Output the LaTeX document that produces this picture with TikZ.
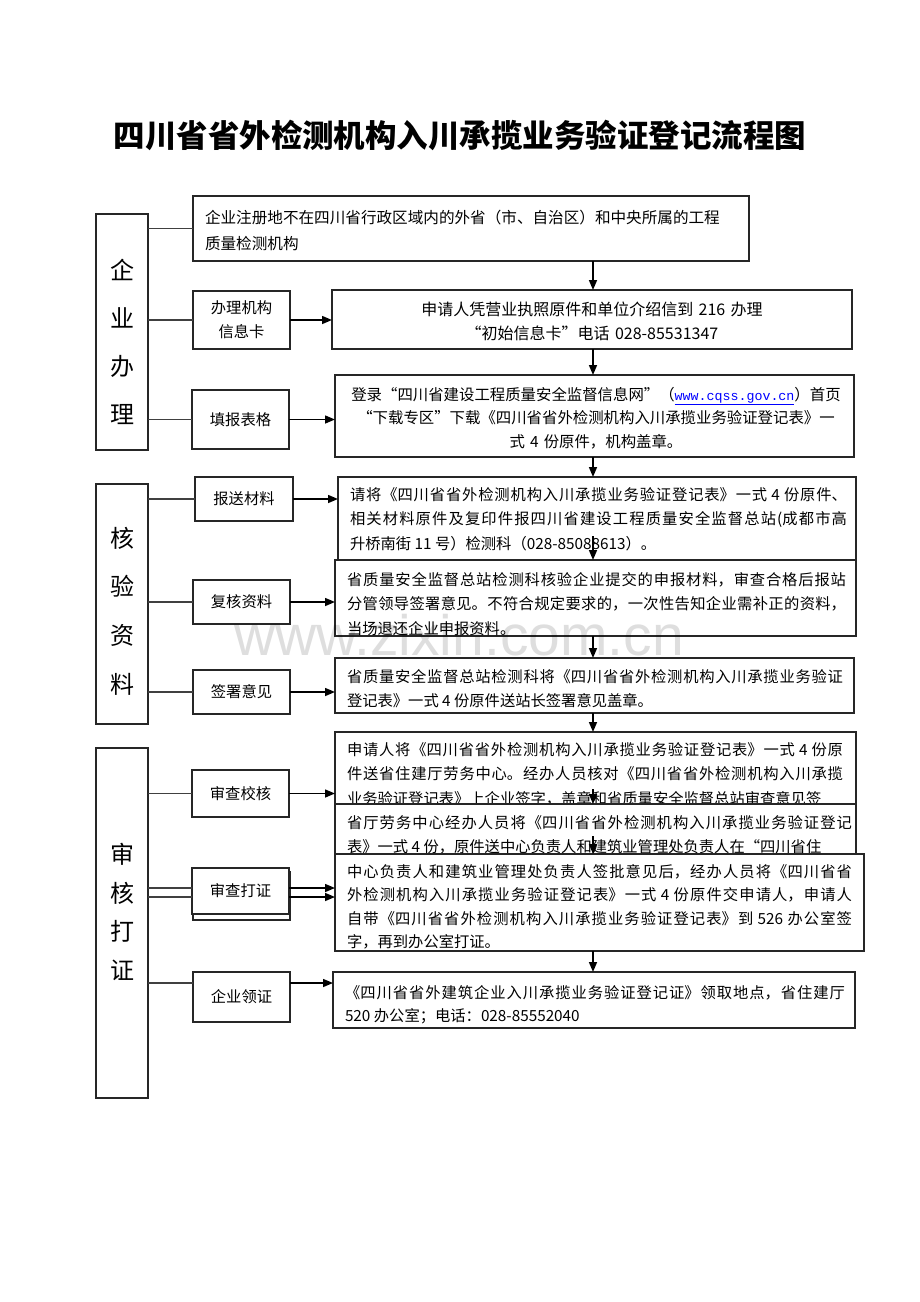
\documentclass[tikz,border=0pt]{standalone}
\usepackage{fontspec}
\setmainfont{Noto Sans CJK SC}
\newfontfamily\urlfont{Liberation Mono}
\newfontfamily\wmfont{Liberation Sans}
\usetikzlibrary{arrows.meta}
\XeTeXlinebreaklocale "zh"
\XeTeXlinebreakskip=0pt
\newcommand\drawbox[6][box]{\node[#1, minimum width={#4-#2}, minimum height={#5-#3}] (#6) at ({(#2+#4)/2},{(#3+#5)/2}) {};}
\newcommand\subbox[6]{\node[sub, minimum width={#4-#2}, minimum height={#5-#3}] (#1) at ({(#2+#4)/2},{(#3+#5)/2}) {#6};}
\newcommand\jfont[1]{\fontsize{15.3}{#1}\selectfont\XeTeXlinebreakskip=0pt plus 2pt minus 0.3pt\relax}
\tikzset{
  box/.style={draw=black!85, line width=1.2pt, fill=white, inner sep=0pt, outer sep=0pt},
  colbox/.style={draw=black!85, line width=1.4pt, fill=white, inner sep=0pt, outer sep=0pt},
  sub/.style={box, font=\fontsize{15.3}{24}\selectfont, align=center},
  body/.style={font=\jfont{24.5}, inner sep=0pt, outer sep=0pt, anchor=base west, align=justify},
  cbody/.style={font=\fontsize{15.4}{24}\selectfont, inner sep=0pt, outer sep=0pt, anchor=base, align=center},
  coltxt/.style={inner sep=0pt, align=center},
  arr/.style={line width=1.5pt, -{Triangle[length=10pt,width=8pt]}},
  lnk/.style={line width=1.1pt, draw=black!75},
}
\begin{document}
\begin{tikzpicture}[x=1pt,y=-1pt]
\useasboundingbox (0,0) rectangle (920,1302);
\fill[white] (0,0) rectangle (920,1302);

% title
\node[font=\fontsize{31.5}{31.5}\selectfont\bfseries, inner sep=0pt] (title) at (460,135) {四川省省外检测机构入川承揽业务验证登记流程图};

% column boxes
\drawbox[colbox]{96}{214}{148}{450}{c1}
\node[coltxt, font=\fontsize{24}{48}\selectfont] (c1t) at (122,342) {企\\业\\办\\理};
\drawbox[colbox]{96}{484}{148}{724}{c2}
\node[coltxt, font=\fontsize{24}{48.7}\selectfont] (c2t) at (122,611) {核\\验\\资\\料};
\drawbox[colbox]{96}{748}{148}{1098}{c3}
\node[coltxt, font=\fontsize{24}{38.5}\selectfont] (c3t) at (122,912) {审\\核\\打\\证};

% sub boxes
\subbox{s1}{193}{291}{290}{349}{办理机构\\信息卡}
\subbox{s2}{192}{390}{289}{449}{填报表格}
\subbox{s3}{195}{477}{293}{521}{报送材料}
\subbox{s4}{193}{580}{290}{624}{复核资料}
\subbox{s5}{193}{670}{290}{714}{签署意见}
\subbox{s6}{192}{770}{289}{817}{审查校核}
\drawbox{193}{872}{290}{920}{s7b}
\subbox{s7}{192}{868}{289}{914}{审查打证}
\subbox{s8}{193}{972}{290}{1022}{企业领证}

% main boxes
\drawbox{193}{196}{749}{261}{b1}
\node[body, align=left, text width=540pt, font=\fontsize{15.6}{26}\selectfont] (b1t) at (205,223) {企业注册地不在四川省行政区域内的外省（市、自治区）和中央所属的工程\\质量检测机构};

\drawbox{332}{290}{852}{349}{b2}
\node[cbody, text width=500pt, font=\fontsize{16}{24}\selectfont] (b2t) at (592,315) {申请人凭营业执照原件和单位介绍信到 216 办理\\“初始信息卡”电话 028-85531347};

\drawbox{335}{375}{854}{457}{b3}
\node[cbody, text width=510pt, font=\fontsize{15.4}{23.5}\selectfont] (b3t) at (596,400) {登录“四川省建设工程质量安全监督信息网”（{\urlfont\fontsize{13.3}{20}\selectfont\color{blue}\underline{www.cqss.gov.cn}}）首页\\“下载专区”下载《四川省省外检测机构入川承揽业务验证登记表》一\\式 4 份原件，机构盖章。};

\drawbox{338}{477}{856}{560}{b4}
\node[body, text width=497pt] (b4t) at (350,500) {请将《四川省省外检测机构入川承揽业务验证登记表》一式 4 份原件、\linebreak 相关材料原件及复印件报四川省建设工程质量安全监督总站(成都市高\linebreak 升桥南街 11 号）检测科（028-85088613）。};

\drawbox{335}{560}{856}{636}{b5}
\node[body, text width=499pt] (b5t) at (347,585) {省质量安全监督总站检测科核验企业提交的申报材料，审查合格后报站\linebreak 分管领导签署意见。不符合规定要求的，一次性告知企业需补正的资料，\linebreak 当场退还企业申报资料。};

\drawbox{335}{658}{854}{713}{b6}
\node[body, text width=496pt] (b6t) at (347,682) {省质量安全监督总站检测科将《四川省省外检测机构入川承揽业务验证\linebreak 登记表》一式 4 份原件送站长签署意见盖章。};

\drawbox{335}{732}{856}{830}{b7}
\node[body, text width=496pt] (b7t) at (347,755) {\parfillskip=0pt 申请人将《四川省省外检测机构入川承揽业务验证登记表》一式 4 份原\linebreak 件送省住建厅劳务中心。经办人员核对《四川省省外检测机构入川承揽\linebreak 业务验证登记表》上企业签字，盖章和省质量安全监督总站审查意见签};

\drawbox{335}{804}{856}{870}{b8}
\node[body, text width=505pt] (b8t) at (347,828) {\parfillskip=0pt 省厅劳务中心经办人员将《四川省省外检测机构入川承揽业务验证登记\linebreak 表》一式 4 份，原件送中心负责人和建筑业管理处负责人在“四川省住};

\drawbox{335}{854}{864}{951}{b9}
\node[body, text width=505pt, font=\jfont{23.5}] (b9t) at (347,877) {中心负责人和建筑业管理处负责人签批意见后，经办人员将《四川省省\linebreak 外检测机构入川承揽业务验证登记表》一式 4 份原件交申请人，申请人\linebreak 自带《四川省省外检测机构入川承揽业务验证登记表》到 526 办公室签\linebreak 字，再到办公室打证。};

\drawbox{333}{972}{855}{1028}{b10}
\node[body, text width=500pt, font=\jfont{23}] (b10t) at (345,998) {《四川省省外建筑企业入川承揽业务验证登记证》领取地点，省住建厅\linebreak 520 办公室；电话：028-85552040};

% column to sub-box links
\draw[lnk] (c1.east |- b1.west) -- (b1.west);
\draw[lnk] (c1.east |- s1.west) -- (s1.west);
\draw[lnk] (c1.east |- s2.west) -- (s2.west);
\draw[lnk] (c2.east |- s3.west) -- (s3.west);
\draw[lnk] (c2.east |- s4.west) -- (s4.west);
\draw[lnk] (c2.east |- s5.west) -- (s5.west);
\draw[lnk] (c3.east |- s6.west) -- (s6.west);
\coordinate (k7a) at (0,888);
\coordinate (k7b) at (0,897);
\coordinate (k8) at (0,983);
\draw[lnk] (c3.east |- k7a) -- (s7.west |- k7a);
\draw[lnk] (c3.east |- k7b) -- (s7.west |- k7b);
\draw[lnk] (c3.east |- k8) -- (s8.west |- k8);

% sub-box to main box arrows
\draw[arr] (s1.east) -- (s1.east -| b2.west);
\draw[arr] (s2.east) -- (s2.east -| b3.west);
\draw[arr] (s3.east) -- (s3.east -| b4.west);
\draw[arr] (s4.east) -- (s4.east -| b5.west);
\draw[arr] (s5.east) -- (s5.east -| b6.west);
\draw[arr] (s6.east) -- (s6.east -| b7.west);
\draw[arr] (s7.east |- k7a) -- (b9.west |- k7a);
\draw[arr] (s7.east |- k7b) -- (b9.west |- k7b);
\draw[arr] (s8.east |- k8) -- (b10.west |- k8);

% vertical flow arrows
\coordinate (ax) at (593,0);
\coordinate (a45) at (593,536);
\coordinate (a78) at (593,789);
\coordinate (a89) at (593,836);
\draw[arr] (b1.south -| ax) -- (b2.north -| ax);
\draw[arr] (b2.south -| ax) -- (b3.north -| ax);
\draw[arr] (b3.south -| ax) -- (b4.north -| ax);
\draw[arr] (a45) -- (b5.north -| ax);
\draw[arr] (b5.south -| ax) -- (b6.north -| ax);
\draw[arr] (b6.south -| ax) -- (b7.north -| ax);
\draw[arr] (a78) -- (b8.north -| ax);
\draw[arr] (a89) -- (b9.north -| ax);
\draw[arr] (b9.south -| ax) -- (b10.north -| ax);

% watermark
\node[font=\wmfont\fontsize{57}{57}\selectfont, text=black, text opacity=0.13, inner sep=0pt, anchor=base] (wm) at (459,655) {www.zixin.com.cn};
\end{tikzpicture}
\end{document}
